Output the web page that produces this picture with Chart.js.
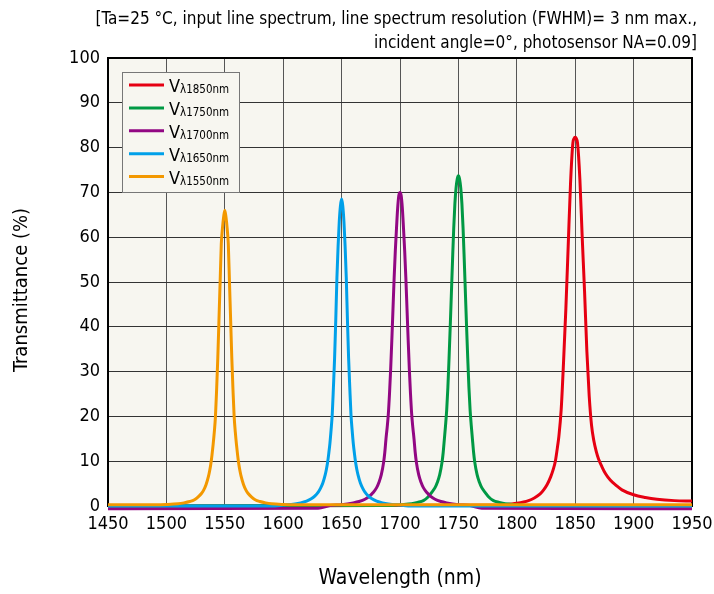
<!DOCTYPE html>
<html>
<head>
<meta charset="utf-8">
<script src="https://cdn.jsdelivr.net/npm/chart.js@4.4.1/dist/chart.umd.min.js"></script>
<style>
  html, body { margin: 0; padding: 0; background: #fff; }
</style>
</head>
<body>
<canvas id="chart" width="714" height="594"></canvas>
<script>
// wavelength (nm) / transmittance (%), one pair of arrays per filter
const redNm = [1450, 1780, 1790, 1800, 1810, 1815, 1820, 1823, 1826, 1829, 1831, 1833, 1835, 1836, 1838, 1840, 1842, 1844, 1846, 1848, 1849, 1850, 1851, 1852, 1854, 1856, 1858, 1860, 1862, 1864, 1866, 1868, 1870, 1873, 1876, 1880, 1885, 1890, 1900, 1910, 1920, 1935, 1950];
const redT = [0, 0.15, 0.3, 0.6, 1.2, 1.8, 2.7, 3.6, 4.8, 6.5, 8, 10, 13.5, 15.5, 21.5, 32, 44, 58, 72, 81, 82, 82.3, 82, 81, 73, 60, 48, 34.5, 24.5, 18, 14.5, 12.2, 10.5, 8.7, 7.2, 5.8, 4.6, 3.6, 2.5, 1.9, 1.5, 1.2, 1.1];

const greenNm = [1450, 1690, 1700, 1710, 1715, 1720, 1724, 1727, 1730, 1732, 1734, 1736, 1737, 1738, 1739, 1740, 1741, 1742, 1743, 1744, 1745, 1746, 1747, 1748, 1749, 1750, 1751, 1752, 1753, 1754, 1755, 1756, 1757, 1758, 1759, 1760, 1761, 1762, 1763, 1764, 1766, 1768, 1770, 1773, 1776, 1780, 1785, 1790, 1800, 1810, 1950];
const greenT = [0, 0.1, 0.3, 0.5, 0.8, 1.2, 2, 3, 4.1, 5.3, 7, 9.8, 12, 15, 18, 21.5, 26.5, 33, 40, 47.5, 55, 62, 67.5, 71, 73, 73.7, 73, 71, 67.5, 62, 55, 47.5, 40, 33, 26.5, 21.5, 18, 15, 12, 9.8, 7, 5.3, 4.1, 3, 2, 1.2, 0.8, 0.5, 0.3, 0.1, 0];

const purpleNm = [1450, 1630, 1640, 1650, 1660, 1665, 1670, 1674, 1677, 1680, 1682, 1684, 1686, 1687, 1688, 1689, 1690, 1691, 1692, 1693, 1694, 1695, 1696, 1697, 1698, 1699, 1700, 1701, 1702, 1703, 1704, 1705, 1706, 1707, 1708, 1709, 1710, 1711, 1712, 1713, 1714, 1716, 1718, 1720, 1723, 1726, 1730, 1735, 1740, 1750, 1760, 1770, 1950];
const purpleT = [-0.6, -0.5, 0.1, 0.3, 0.7, 1, 1.5, 2.2, 3, 4.1, 5.3, 7, 9.8, 12, 15, 17.5, 20.5, 25, 30.5, 37, 44, 51, 57, 62, 66.5, 69.3, 70, 69.3, 66.5, 62, 57, 51, 44, 37, 30.5, 25, 20.5, 17.5, 15, 12, 9.8, 7, 5.3, 4.1, 3, 2.2, 1.5, 1, 0.7, 0.3, 0.1, -0.5, -0.6];

const blueNm = [1450, 1590, 1600, 1610, 1615, 1620, 1624, 1627, 1630, 1632, 1634, 1636, 1637, 1638, 1639, 1640, 1641, 1642, 1643, 1644, 1645, 1646, 1647, 1648, 1649, 1650, 1651, 1652, 1653, 1654, 1655, 1656, 1657, 1658, 1659, 1660, 1661, 1662, 1663, 1664, 1666, 1668, 1670, 1673, 1676, 1680, 1685, 1690, 1700, 1710, 1950];
const blueT = [0, 0, 0.2, 0.45, 0.7, 1.1, 1.6, 2.2, 3.1, 4, 5.2, 7, 8.2, 9.7, 11.7, 14, 17, 20.5, 26.5, 33, 41.5, 51, 58, 63.5, 67, 68.5, 67, 63.5, 58, 51, 41.5, 33, 26.5, 20.5, 17, 14, 11.7, 9.7, 8.2, 7, 5.2, 4, 3.1, 2.2, 1.6, 1.1, 0.7, 0.45, 0.2, 0, 0];

const orangeNm = [1450, 1490, 1500, 1510, 1515, 1520, 1524, 1527, 1530, 1532, 1534, 1536, 1537, 1538, 1539, 1540, 1541, 1542, 1543, 1544, 1545, 1546, 1547, 1548, 1549, 1550, 1551, 1552, 1553, 1554, 1555, 1556, 1557, 1558, 1559, 1560, 1561, 1562, 1563, 1564, 1566, 1568, 1570, 1573, 1576, 1580, 1585, 1590, 1600, 1610, 1950];
const orangeT = [0.3, 0.3, 0.35, 0.5, 0.7, 1, 1.4, 2, 2.8, 3.6, 4.8, 6.6, 7.8, 9.3, 11.3, 13.7, 16.5, 20, 26, 33, 41.5, 50, 58.5, 62, 64.5, 66, 64.5, 62, 58.5, 50, 41.5, 33, 26, 20, 16.5, 13.7, 11.3, 9.3, 7.8, 6.6, 4.8, 3.6, 2.8, 2, 1.4, 1, 0.7, 0.5, 0.35, 0.3, 0.3];

const seriesNames = ['λ1850nm', 'λ1750nm', 'λ1700nm', 'λ1650nm', 'λ1550nm'];
const seriesColors = ['#e60012', '#009944', '#920783', '#00a0e9', '#f39800'];

const xTicks = [1450, 1500, 1550, 1600, 1650, 1700, 1750, 1800, 1850, 1900, 1950];
const yTicks = [0, 10, 20, 30, 40, 50, 60, 70, 80, 90, 100];

const noteLines = [
    '[Ta=25 °C, input line spectrum, line spectrum resolution (FWHM)= 3 nm max.,',
    'incident angle=0°, photosensor NA=0.09]'
];
const yTitle = 'Transmittance (%)';

const FONT = '"DejaVu Sans Condensed", "DejaVu Sans", sans-serif';
const PLOT_BG = '#f7f6f0';

const toPoints = (xs, ys) => xs.map((x, i) => ({ x: x, y: ys[i] }));
const allNm = [redNm, greenNm, purpleNm, blueNm, orangeNm];
const allT = [redT, greenT, purpleT, blueT, orangeT];

const datasets = seriesNames.map((name, i) => ({
    label: 'V' + name,
    data: toPoints(allNm[i], allT[i]),
    borderColor: seriesColors[i],
    borderWidth: 3,
    pointRadius: 0,
    cubicInterpolationMode: 'monotone',
    order: 5 - i,     // later filters on top, orange last
    clip: 6,
}));

const decor = {
    id: 'decor',
    beforeDraw(chart) {
        const { ctx, chartArea: a } = chart;
        ctx.save();
        ctx.fillStyle = PLOT_BG;
        ctx.fillRect(a.left, a.top, a.right - a.left, a.bottom - a.top);
        ctx.restore();
    },
    beforeDatasetsDraw(chart) {
        const { ctx, chartArea: a } = chart;
        ctx.save();
        ctx.strokeStyle = '#000';
        ctx.lineWidth = 2;
        ctx.strokeRect(a.left, a.top, a.right - a.left, a.bottom - a.top);
        ctx.restore();
    },
    afterDraw(chart) {
        const ctx = chart.ctx;
        ctx.save();

        // note in the top right corner
        ctx.fillStyle = '#000';
        ctx.font = '17px ' + FONT;
        ctx.textAlign = 'right';
        ctx.textBaseline = 'alphabetic';
        ctx.fillText(noteLines[0], 697, 24);
        ctx.fillText(noteLines[1], 697, 48);

        // y axis title, sits a bit below the plot centre
        ctx.save();
        ctx.translate(22, 290);
        ctx.rotate(-Math.PI / 2);
        ctx.textAlign = 'center';
        ctx.textBaseline = 'middle';
        ctx.font = '20px ' + FONT;
        ctx.fillText(yTitle, 0, 0);
        ctx.restore();

        // legend box inside the plot
        const bx = 122, by = 72, bw = 117, bh = 120;
        ctx.fillStyle = PLOT_BG;
        ctx.fillRect(bx, by, bw, bh);
        ctx.strokeStyle = '#777';
        ctx.lineWidth = 1;
        ctx.strokeRect(bx + 0.5, by + 0.5, bw, bh);

        ctx.textAlign = 'left';
        seriesNames.forEach((name, i) => {
            const ly = 85 + i * 22.9;
            ctx.strokeStyle = seriesColors[i];
            ctx.lineWidth = 3;
            ctx.beginPath();
            ctx.moveTo(129, ly);
            ctx.lineTo(164, ly);
            ctx.stroke();

            ctx.fillStyle = '#000';
            ctx.font = '18px ' + FONT;
            ctx.fillText('V', 169, ly + 7);
            const vw = ctx.measureText('V').width;
            ctx.font = '11.5px ' + FONT;
            ctx.fillText(name, 169 + vw, ly + 8);
        });
        ctx.restore();
    }
};

new Chart(document.getElementById('chart'), {
    type: 'line',
    data: { datasets: datasets },
    options: {
        responsive: false,
        animation: false,
        layout: { padding: { top: 58, right: 22, bottom: 0, left: 0 } },
        plugins: {
            legend: { display: false },
            tooltip: { enabled: false },
        },
        scales: {
            x: {
                type: 'linear',
                min: 1450,
                max: 1950,
                afterBuildTicks: (scale) => { scale.ticks = xTicks.map(v => ({ value: v })); },
                afterFit: (scale) => {
                    scale.height = 88;
                    scale.paddingLeft = 0;
                    scale.paddingRight = 0;
                },
                grid: { color: '#555', lineWidth: 1, drawTicks: false },
                border: { display: false },
                ticks: { color: '#000', padding: 8, font: { family: FONT, size: 18 }, callback: (v) => String(v) },
                title: {
                    display: true,
                    text: 'Wavelength (nm)',
                    color: '#000',
                    font: { family: FONT, size: 21 },
                    padding: { top: 0, bottom: 3 },
                },
            },
            y: {
                min: 0,
                max: 100,
                afterBuildTicks: (scale) => { scale.ticks = yTicks.map(v => ({ value: v })); },
                afterFit: (scale) => {
                    scale.width = 108;
                    scale.paddingTop = 0;
                    scale.paddingBottom = 0;
                },
                grid: { color: '#333', lineWidth: 1, drawTicks: false },
                border: { display: false },
                ticks: { color: '#000', padding: 8, font: { family: FONT, size: 18 }, callback: (v) => String(v) },
            },
        },
    },
    plugins: [decor],
});
</script>
</body>
</html>
